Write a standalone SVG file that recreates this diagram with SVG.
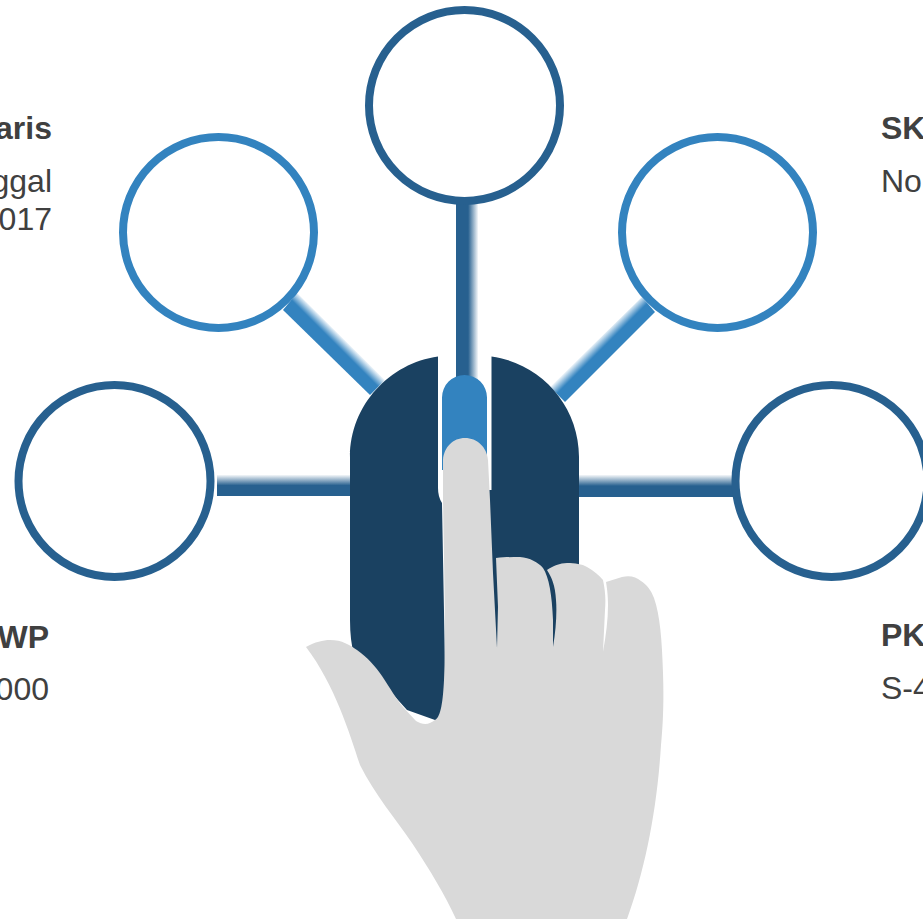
<svg xmlns="http://www.w3.org/2000/svg" width="923" height="919" viewBox="0 0 923 919">
<defs>
<linearGradient id="gv" x1="0" y1="0" x2="1" y2="0"><stop offset="0" stop-color="#27608f"/><stop offset="0.55" stop-color="#27608f"/><stop offset="1" stop-color="#27608f" stop-opacity="0.05"/></linearGradient>
<linearGradient id="gh" x1="0" y1="1" x2="0" y2="0"><stop offset="0" stop-color="#27608f"/><stop offset="0.5" stop-color="#27608f"/><stop offset="1" stop-color="#27608f" stop-opacity="0.05"/></linearGradient>
<linearGradient id="gdl" gradientUnits="userSpaceOnUse" x1="370" y1="395" x2="385" y2="380"><stop offset="0" stop-color="#3383bf"/><stop offset="0.55" stop-color="#3383bf"/><stop offset="1" stop-color="#3383bf" stop-opacity="0.05"/></linearGradient>
<linearGradient id="gdr" gradientUnits="userSpaceOnUse" x1="565" y1="402" x2="550" y2="387"><stop offset="0" stop-color="#3383bf"/><stop offset="0.55" stop-color="#3383bf"/><stop offset="1" stop-color="#3383bf" stop-opacity="0.05"/></linearGradient>
</defs>
<style>
.dk{fill:#fff;stroke:#27608f;stroke-width:8}
.lt{fill:#fff;stroke:#3383bf;stroke-width:8}
.b{font:bold 32px "Liberation Sans",Arial,sans-serif;fill:#404040}
.r{font:32px "Liberation Sans",Arial,sans-serif;fill:#404040}
.e{text-anchor:end}
</style>
<g id="connectors">
<rect x="456" y="200" width="22" height="185" fill="url(#gv)"/>
<rect x="217" y="475" width="140" height="21" fill="url(#gh)"/>
<rect x="575" y="475" width="162" height="22" fill="url(#gh)"/>
<polygon points="370,395 283,310 297,293 385,380" fill="url(#gdl)"/>
<polygon points="565,402 655,312 642,297 550,387" fill="url(#gdr)"/>
</g>
<g id="node-top"><circle class="dk" cx="464.500" cy="105.500" r="95.500"/></g>
<g id="node-upper-left"><circle class="lt" cx="218.500" cy="232.500" r="95.500"/></g>
<g id="node-upper-right"><circle class="lt" cx="717.500" cy="232.500" r="95.500"/></g>
<g id="node-left"><circle class="dk" cx="114.500" cy="481" r="96"/></g>
<g id="node-right"><circle class="dk" cx="831.500" cy="481" r="96"/></g>
<g id="mouse">
<path d="M438 356.500V488Q438 497 442 503L446 720L435 720L407 710L380 680L354 655Q350 640 350 620V457C350 405 390 363 438 356.500Z" fill="#1a4161"/>
<path d="M491.500 356.500C540 363 579 405 579 457V660H489V490H491.500Z" fill="#1a4161"/>
<path d="M442 397.500A22.500 22.500 0 0 1 487 397.500V470H442Z" fill="#3383bf"/>
</g>
<g id="hand">
<path d="M306 647C315 642 323 640 330 640C342 640 350 645 357 650C368 658 375 666 382 676C390 688 397 700 403 707L416 721C424 726 430 724 435 720C441 717 443 700 444 680C446 640 444 560 443 500L443 460C444 447 453 438 465 438C477 438 487 447 488 460L490 500L493 573L497 648L498 607L496 558C505 557 512 557 520 557C530 558 538 562 543 568C549 577 552 595 553 620L553 647C556 630 557 612 556 600C555 585 552 578 547 570C553 566 560 563 567 563C575 563 582 564 587 567C594 571 599 575 603 580C605 590 606 598 605 610L603 652C606 635 608 620 608 605C608 595 607 588 606 582L622 577C630 575 636 577 641 581C647 585 651 590 654 598C660 615 662 640 663 673C664 700 663 725 661 745C657 810 645 870 627 919H456C445 895 430 870 412 843C395 818 375 795 360 765C350 735 335 685 306 647Z" fill="#d9d9d9"/>
</g>
<g id="label-top-left"><text class="b e" x="52" y="139">aris</text><text class="r e" x="52" y="192">ggal</text><text class="r e" x="52" y="230">017</text></g>
<g id="label-bottom-left"><text class="b e" x="49" y="648">WP</text><text class="r e" x="49" y="700">000</text></g>
<g id="label-top-right"><text class="b" x="881" y="139">SK</text><text class="r" x="881" y="192">No</text></g>
<g id="label-bottom-right"><text class="b" x="881" y="646">PK</text><text class="r" x="881" y="699">S-4</text></g>
</svg>
